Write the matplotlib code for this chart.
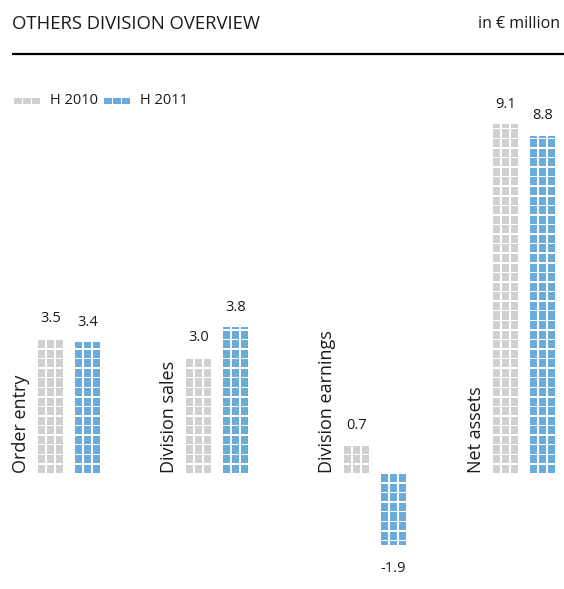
import math

import matplotlib
matplotlib.use("Agg")
from matplotlib import pyplot as plt
from matplotlib.patches import Rectangle
from matplotlib.collections import PatchCollection

plt.rcParams['font.family'] = ['Open Sans', 'DejaVu Sans']

# data
categories = ["Order entry", "Division sales", "Division earnings", "Net assets"]
h2010 = [3.5, 3.0, 0.7, 9.1]
h2011 = [3.4, 3.8, -1.9, 8.8]
labels_2010 = ["3.5", "3.0", "0.7", "9.1"]
labels_2011 = ["3.4", "3.8", "-1.9", "8.8"]
series_names = ["H 2010", "H 2011"]

# layout (pixels across, value units up)
W, H = 564, 589
group_left = [37, 185, 343, 492]
bar_w = 27
bar_gap = 10
px_per_unit = 38.3
baseline_px = 472.7
step = 0.25  # value per row of squares
grey = "#cfcfcf"
blue = "#69acdb"
text_col = "#1a1a1a"

fig = plt.figure(figsize=(W / 100, H / 100), dpi=100)
ax = fig.add_axes([0, 0, 1, 1])
ax.set_xlim(0, W)
ax.set_ylim(-(H - baseline_px) / px_per_unit, baseline_px / px_per_unit)
ax.axis('off')


def waffle_bar(x, v, color):
    # invisible bar sets the extent, squares are clipped to it
    bar = ax.bar(x, v, bar_w, align='edge', color='none', linewidth=0)[0]
    n = math.ceil(abs(v) / step - 1e-9)
    sgn = 1 if v >= 0 else -1
    sq_w = 7.8
    sq_h = 8.1 / px_per_unit
    gap_h = step - sq_h
    cells = []
    for r in range(n):
        for c in range(3):
            x0 = x + c * 9 + 0.6
            if sgn > 0:
                y0 = r * step
            else:
                y0 = -(r * step + gap_h) - sq_h
            cells.append(Rectangle((x0, y0), sq_w, sq_h))
    pc = PatchCollection(cells, facecolor=color, edgecolor='none')
    ax.add_collection(pc)
    pc.set_clip_path(bar)


for i, cat in enumerate(categories):
    xg = group_left[i]
    xb = xg + bar_w + bar_gap
    waffle_bar(xg, h2010[i], grey)
    waffle_bar(xb, h2011[i], blue)
    for x, v, lab in [(xg, h2010[i], labels_2010[i]), (xb, h2011[i], labels_2011[i])]:
        if v >= 0:
            ax.text(x + bar_w / 2, v + 20 / px_per_unit, lab, ha='center', va='center',
                    fontsize=10.5, color=text_col)
        else:
            ax.text(x + bar_w / 2, v - 23 / px_per_unit, lab, ha='center', va='center',
                    fontsize=10.5, color=text_col)
    ax.text(xg - 11, 0, cat, rotation=90, rotation_mode='anchor', ha='left', va='baseline',
            fontsize=13, color=text_col)

# header, rule and legend in pixel coordinates
top = fig.add_axes([0, 0, 1, 1], facecolor='none')
top.set_xlim(0, W)
top.set_ylim(H, 0)
top.axis('off')
top.text(12, 24, "OTHERS DIVISION OVERVIEW", ha='left', va='center', fontsize=13.3, color=text_col)
top.text(560, 24, "in € million", ha='right', va='center', fontsize=11.5, color=text_col)
top.plot([12, 564], [53.5, 53.5], color='black', linewidth=1.6, solid_capstyle='butt')

leg_x = [14, 104]
text_x = [50, 140]
for lx, tx, col, name in zip(leg_x, text_x, [grey, blue], series_names):
    for c in range(3):
        top.add_patch(Rectangle((lx + c * 9, 98), 7.6, 6, facecolor=col, edgecolor='none'))
    top.text(tx, 100, name, ha='left', va='center', fontsize=10.5, color=text_col)

fig.savefig("out.png", dpi=100)
